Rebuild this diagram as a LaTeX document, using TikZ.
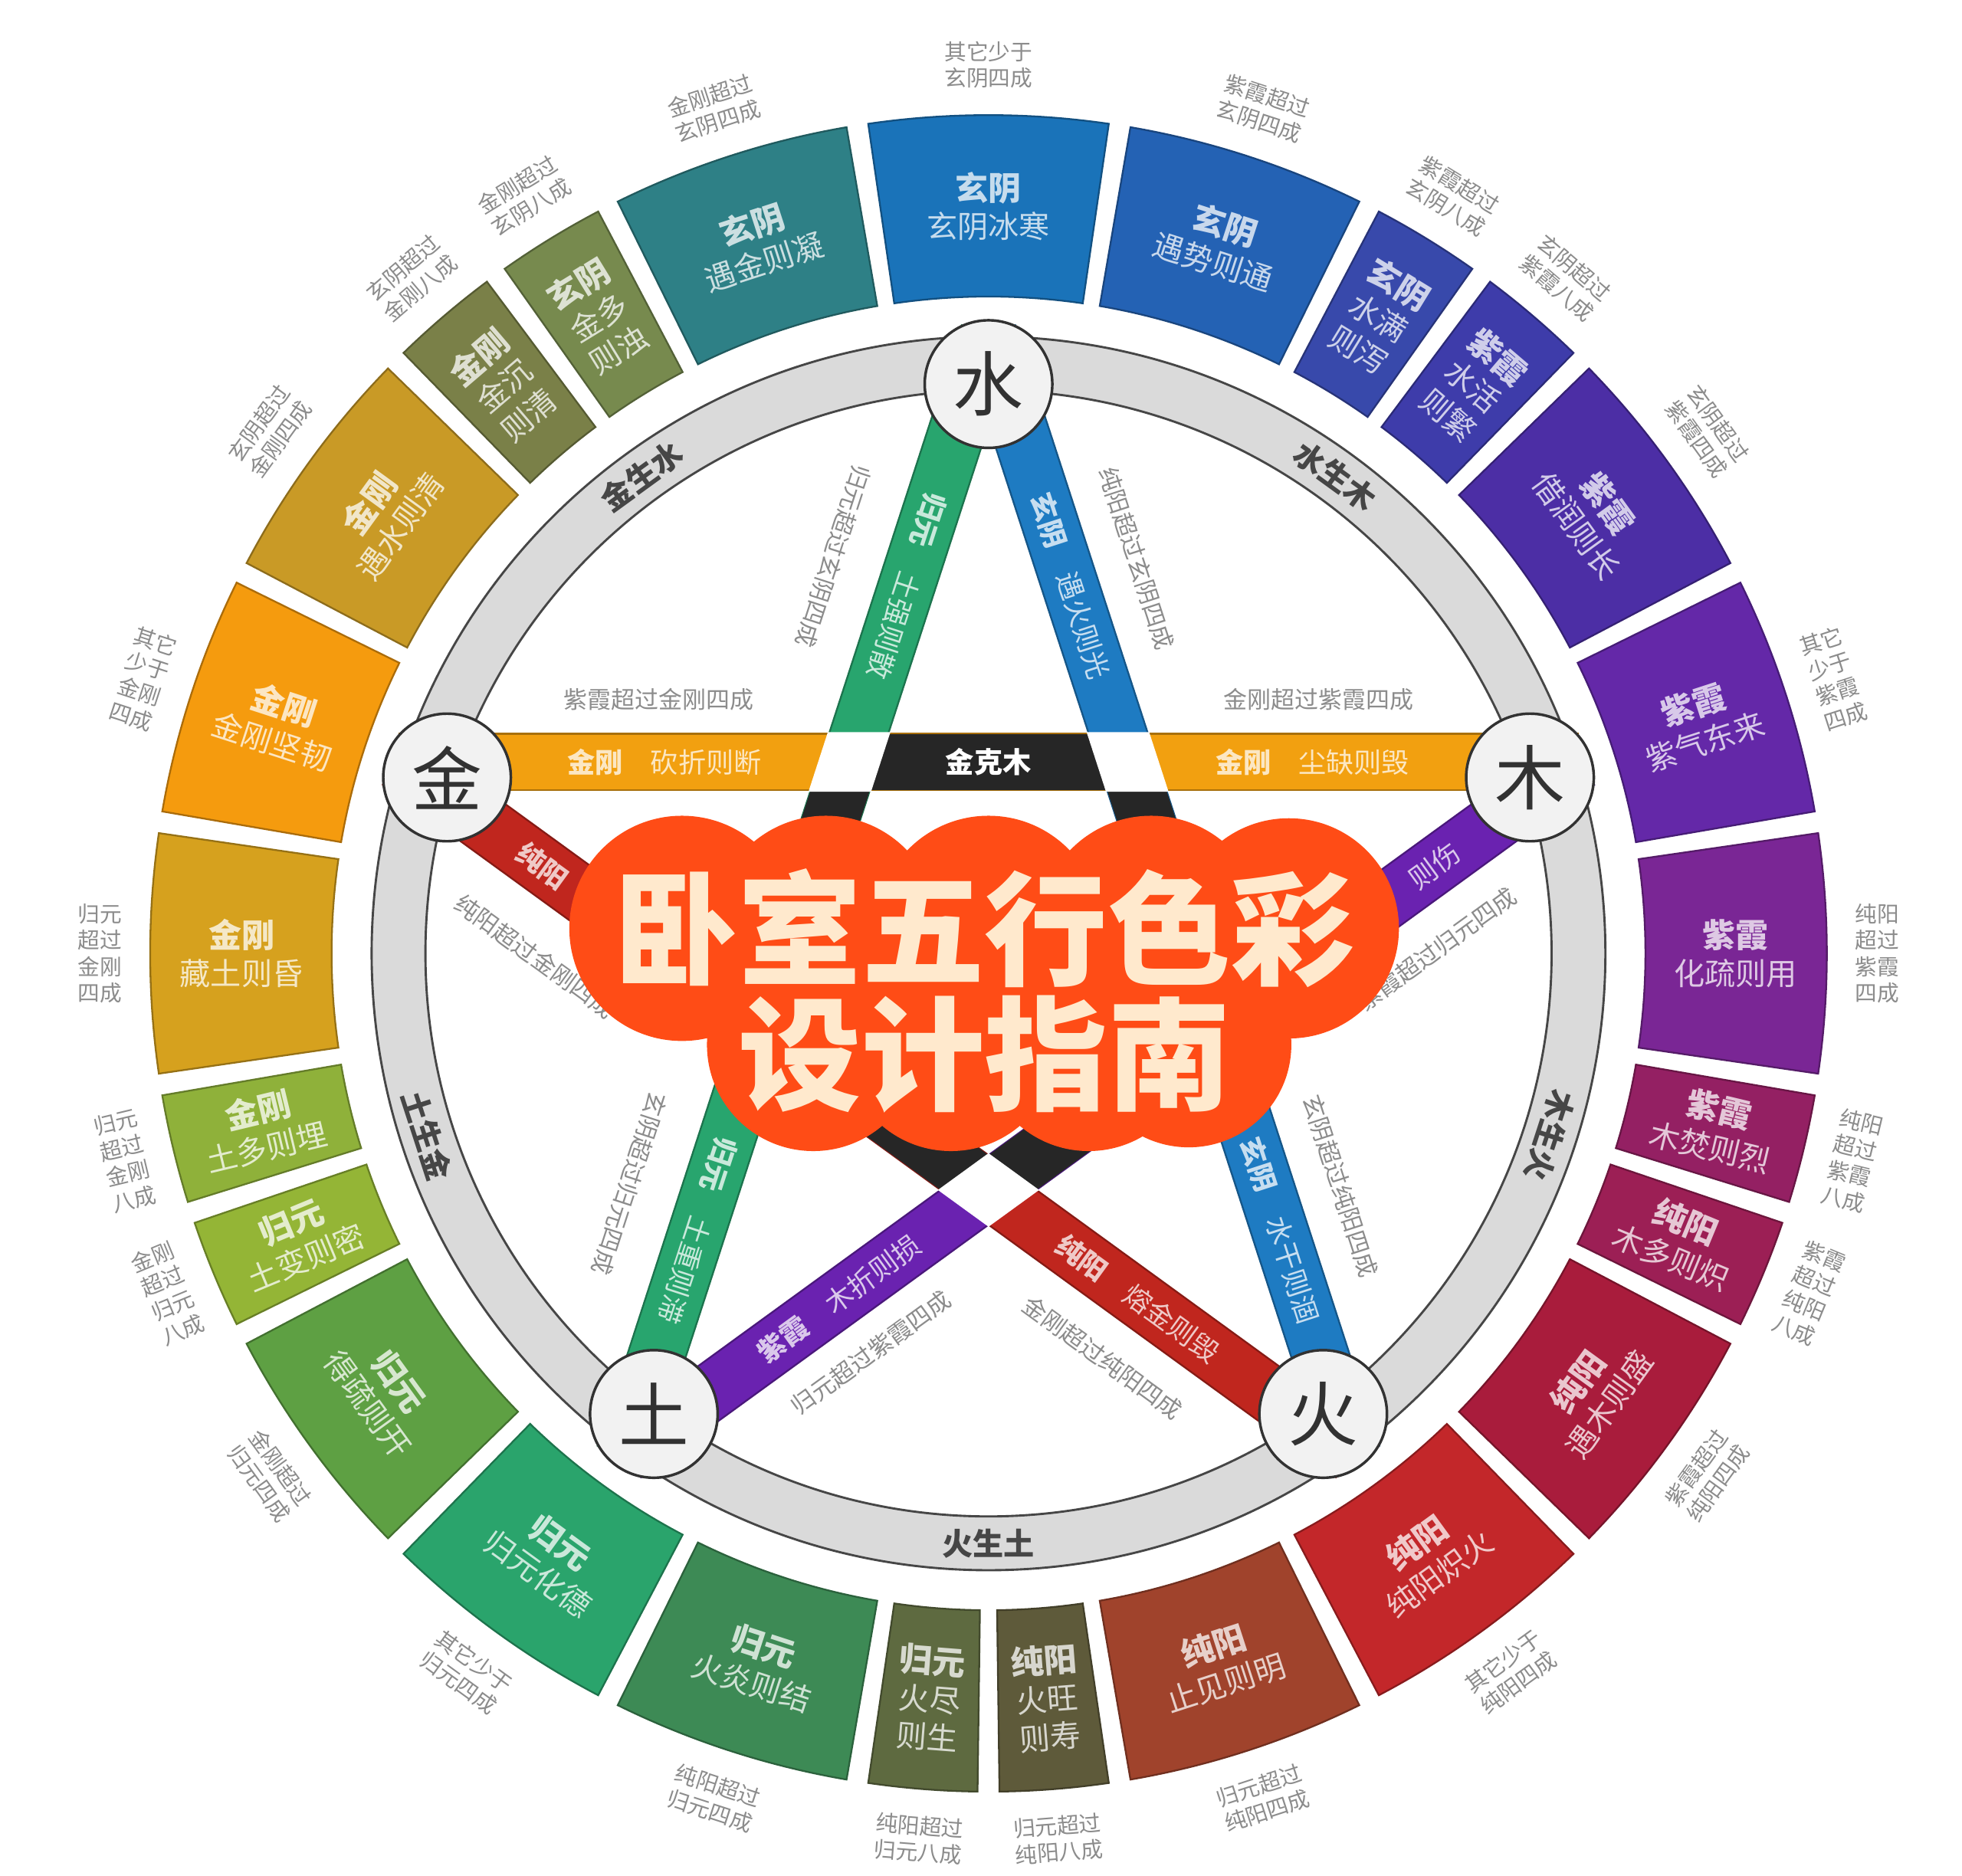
\documentclass[tikz,border=0pt]{standalone}
\usepackage{fontspec}
\setmainfont{Noto Sans CJK SC}
\usetikzlibrary{calc}

\definecolor{s1}{RGB}{46,128,134}
\definecolor{s2}{RGB}{26,115,185}
\definecolor{s3}{RGB}{36,98,180}
\definecolor{s4}{RGB}{56,73,171}
\definecolor{s5}{RGB}{62,60,170}
\definecolor{s6}{RGB}{76,46,165}
\definecolor{s7}{RGB}{100,40,168}
\definecolor{s8}{RGB}{122,38,149}
\definecolor{s9}{RGB}{148,32,99}
\definecolor{s10}{RGB}{156,31,85}
\definecolor{s11}{RGB}{169,28,60}
\definecolor{s12}{RGB}{195,39,42}
\definecolor{s13}{RGB}{160,67,44}
\definecolor{s14}{RGB}{94,90,58}
\definecolor{s15}{RGB}{94,106,64}
\definecolor{s16}{RGB}{61,138,85}
\definecolor{s17}{RGB}{42,164,108}
\definecolor{s18}{RGB}{94,160,67}
\definecolor{s19}{RGB}{148,181,54}
\definecolor{s20}{RGB}{143,177,58}
\definecolor{s21}{RGB}{214,161,30}
\definecolor{s22}{RGB}{245,155,14}
\definecolor{s23}{RGB}{201,154,38}
\definecolor{s24}{RGB}{122,128,72}
\definecolor{s25}{RGB}{119,138,78}
\definecolor{bGreen}{RGB}{40,165,110}
\definecolor{bBlue}{RGB}{30,123,194}
\definecolor{bOrange}{RGB}{242,160,16}
\definecolor{bRed}{RGB}{192,38,30}
\definecolor{bPurple}{RGB}{106,34,176}
\definecolor{noteGrey}{RGB}{140,140,140}
\definecolor{ringFill}{RGB}{218,218,218}
\definecolor{ringLine}{RGB}{70,70,70}
\definecolor{elemFill}{RGB}{242,242,242}
\definecolor{elemLine}{RGB}{50,50,50}
\definecolor{keBlack}{RGB}{38,38,38}
\definecolor{titleRed}{RGB}{255,76,22}
\definecolor{titleText}{RGB}{255,233,205}

\tikzset{
	seg/.style={line width=0.4pt},
	segtext/.style={font=\fontsize{7}{8.6}\selectfont, align=center, inner sep=0pt},
	segnote/.style={font=\fontsize{5}{6}\selectfont, align=center, text=noteGrey, inner sep=0pt},
	elem/.style={circle, draw=elemLine, line width=0.6pt, fill=elemFill, minimum size=1.02cm, inner sep=0pt, font=\fontsize{16}{16}\selectfont, text=elemLine},
	bandtext/.style={font=\fontsize{6.3}{7}\selectfont, inner sep=0pt},
	bandnote/.style={font=\fontsize{5.4}{6}\selectfont, text=noteGrey, inner sep=0pt},
	ringtext/.style={font=\bfseries\fontsize{7}{8}\selectfont, text=ringLine, inner sep=0pt},
	ketext/.style={font=\bfseries\fontsize{6.5}{7}\selectfont, text=white, inner sep=0pt},
	titletext/.style={font=\bfseries\fontsize{28}{28.5}\selectfont, text=titleText, align=center, inner sep=0pt}
}

\begin{document}
\begin{tikzpicture}
\useasboundingbox (-7.90,-7.37) rectangle (7.78,7.62);
\fill[white] (-7.90,-7.37) rectangle (7.78,7.62);

% colour blocks round the wheel
\foreach \ang/\sw/\col/\rot/\hd/\bd/\lab [count=\i] in {
	108/16.5/s1/18/玄阴/遇金则凝/{金刚超过\\玄阴四成},
	90/16.5/s2/0/玄阴/玄阴冰寒/{其它少于\\玄阴四成},
	72/16.5/s3/-18/玄阴/遇势则通/{紫霞超过\\玄阴四成},
	58.5/7.5/s4/-31.5/玄阴/{水满\\则泻}/{紫霞超过\\玄阴八成},
	49.5/7.5/s5/-40.5/紫霞/{水活\\则繁}/{玄阴超过\\紫霞八成},
	36/16.5/s6/-54/紫霞/借润则长/{玄阴超过\\紫霞四成},
	18/16.5/s7/18/紫霞/紫气东来/{其它\\少于\\紫霞\\四成},
	0/16.5/s8/0/紫霞/化疏则用/{纯阳\\超过\\紫霞\\四成},
	-13.5/7.5/s9/-13.5/紫霞/木焚则烈/{纯阳\\超过\\紫霞\\八成},
	-22.5/7.5/s10/-22.5/纯阳/木多则炽/{紫霞\\超过\\纯阳\\八成},
	-36/16.5/s11/54/纯阳/遇木则盛/{紫霞超过\\纯阳四成},
	-54/16.5/s12/36/纯阳/纯阳炽火/{其它少于\\纯阳四成},
	-72/16.5/s13/18/纯阳/止见则明/{归元超过\\纯阳四成},
	-85.5/7.5/s14/4.5/纯阳/{火旺\\则寿}/{归元超过\\纯阳八成},
	-94.5/7.5/s15/-4.5/归元/{火尽\\则生}/{纯阳超过\\归元八成},
	-108/16.5/s16/-18/归元/火炎则结/{纯阳超过\\归元四成},
	-126/16.5/s17/-36/归元/归元化德/{其它少于\\归元四成},
	-144/16.5/s18/-54/归元/得疏则开/{金刚超过\\归元四成},
	-157.5/7.5/s19/22.5/归元/土变则密/{金刚\\超过\\归元\\八成},
	-166.5/7.5/s20/13.5/金刚/土多则埋/{归元\\超过\\金刚\\八成},
	180/16.5/s21/0/金刚/藏土则昏/{归元\\超过\\金刚\\四成},
	162/16.5/s22/-18/金刚/金刚坚韧/{其它\\少于\\金刚\\四成},
	144/16.5/s23/54/金刚/遇水则清/{玄阴超过\\金刚四成},
	130.5/7.5/s24/40.5/金刚/{金沉\\则清}/{玄阴超过\\金刚八成},
	121.5/7.5/s25/31.5/玄阴/{金多\\则浊}/{金刚超过\\玄阴八成}}{
	\fill[seg, \col, draw=\col!70!black] (\ang-\sw/2:5.25) arc[start angle=\ang-\sw/2, end angle=\ang+\sw/2, radius=5.25]
		-- (\ang+\sw/2:6.70) arc[start angle=\ang+\sw/2, end angle=\ang-\sw/2, radius=6.70] -- cycle;
	\node[segtext, rotate=\rot, text=\col!25!white] (seg\i) at (\ang:5.97) {{\bfseries\fontsize{7.5}{8.6}\selectfont\hd}\\\bd};
	\node[segnote, rotate=\rot] (note\i) at (\ang:7.1) {\lab};
}

% grey ring
\fill[ringFill, even odd rule] (0,0) circle (4.93) (0,0) circle (4.50);
\draw[ringLine, line width=0.5pt] (0,0) circle (4.93) (0,0) circle (4.50);

\coordinate (vShui) at (90:4.95);
\coordinate (vMu) at (18:4.95);
\coordinate (vHuo) at (-54:4.95);
\coordinate (vTu) at (-126:4.95);
\coordinate (vJin) at (162:4.95);

% star bands, black where one element checks another
\foreach \a/\b/\col in {vShui/vTu/bGreen, vShui/vHuo/bBlue, vJin/vMu/bOrange, vJin/vHuo/bRed, vTu/vMu/bPurple}{
	\fill[\col, draw=\col!70!black, line width=0.4pt] ($(\a)!0.225cm!90:(\b)$) -- ($(\b)!0.225cm!-90:(\a)$)
		-- ($(\b)!0.225cm!90:(\a)$) -- ($(\a)!0.225cm!-90:(\b)$) -- cycle;
	\coordinate (m1) at ($(\a)!0.382!(\b)$);
	\coordinate (m2) at ($(\a)!0.618!(\b)$);
	\fill[keBlack] ($(m1)!0.225cm!90:(m2)$) -- ($(m2)!0.225cm!-90:(m1)$)
		-- ($(m2)!0.225cm!90:(m1)$) -- ($(m1)!0.225cm!-90:(m2)$) -- cycle;
}
\foreach \p in {126,54,-18,-90,-162}
	\fill[white] ($(\p:1.891)+(\p-54:0.25)+(\p-126:0.25)$) -- ($(\p:1.891)+(\p-54:0.25)-(\p-126:0.25)$)
		-- ($(\p:1.891)-(\p-54:0.25)-(\p-126:0.25)$) -- ($(\p:1.891)-(\p-54:0.25)+(\p-126:0.25)$) -- cycle;

\node[bandtext, rotate=-108, text=bGreen!25!white] (gyTop) at ($(vShui)!0.225!(vTu)$) {{\bfseries 归元}\quad 土强则散};
\node[bandtext, rotate=-108, text=bGreen!25!white] (gyLow) at ($(vShui)!0.80!(vTu)$) {{\bfseries 归元}\quad 土重则滞};
\node[bandtext, rotate=-72, text=bBlue!25!white] (xyTop) at ($(vShui)!0.225!(vHuo)$) {{\bfseries 玄阴}\quad 遇火则光};
\node[bandtext, rotate=-72, text=bBlue!25!white] (xyLow) at ($(vShui)!0.80!(vHuo)$) {{\bfseries 玄阴}\quad 水干则涸};
\node[bandtext, text=bOrange!25!white] (jgLeft) at ($(vJin)!0.225!(vMu)$) {{\bfseries 金刚}\quad 砍折则断};
\node[bandtext, text=bOrange!25!white] (jgRight) at ($(vJin)!0.775!(vMu)$) {{\bfseries 金刚}\quad 尘缺则毁};
\node[bandtext, rotate=-36, text=bRed!25!white] (cyTop) at ($(vJin)!0.15!(vHuo)$) {\bfseries 纯阳};
\node[bandtext, rotate=-36, text=bRed!25!white] (cyLow) at ($(vJin)!0.775!(vHuo)$) {{\bfseries 纯阳}\quad 熔金则毁};
\node[bandtext, rotate=36, text=bPurple!25!white] (zxLow) at ($(vTu)!0.225!(vMu)$) {{\bfseries 紫霞}\quad 木折则损};
\node[bandtext, rotate=36, text=bPurple!25!white] (zxTop) at ($(vTu)!0.85!(vMu)$) {则伤};

\node[bandnote, rotate=-108] (gyTopNote) at ($(vShui)!0.22!(vTu)+(162:0.63)$) {归元超过玄阴四成};
\node[bandnote, rotate=-108] (gyLowNote) at ($(vShui)!0.78!(vTu)+(162:0.63)$) {玄阴超过归元四成};
\node[bandnote, rotate=-72] (xyTopNote) at ($(vShui)!0.22!(vHuo)+(18:0.57)$) {纯阳超过玄阴四成};
\node[bandnote, rotate=-72] (xyLowNote) at ($(vShui)!0.78!(vHuo)+(18:0.57)$) {玄阴超过纯阳四成};
\node[bandnote] (jgLeftNote) at ($(vJin)!0.22!(vMu)+(90:0.5)$) {紫霞超过金刚四成};
\node[bandnote] (jgRightNote) at ($(vJin)!0.78!(vMu)+(90:0.5)$) {金刚超过紫霞四成};
\node[bandnote, rotate=-36] (cyTopNote) at ($(vJin)!0.19!(vHuo)+(-126:0.62)$) {纯阳超过金刚四成};
\node[bandnote, rotate=-36] (cyLowNote) at ($(vJin)!0.78!(vHuo)+(-126:0.55)$) {金刚超过纯阳四成};
\node[bandnote, rotate=36] (zxLowNote) at ($(vTu)!0.22!(vMu)+(-54:0.5)$) {归元超过紫霞四成};
\node[bandnote, rotate=36] (zxTopNote) at ($(vTu)!0.81!(vMu)+(-54:0.55)$) {紫霞超过归元四成};

\node[ketext] (jinKeMu) at (0,1.53) {金克木};

\node[elem] (shui) at (90:4.55) {水};
\node[elem] (mu) at (18:4.55) {木};
\node[elem] (huo) at (-54:4.55) {火};
\node[elem] (tu) at (-126:4.55) {土};
\node[elem] (jin) at (162:4.55) {金};

\node[ringtext, rotate=36] (jinShengShui) at (126:4.715) {金生水};
\node[ringtext, rotate=-36] (shuiShengMu) at (54:4.715) {水生木};
\node[ringtext, rotate=-108] (muShengHuo) at (-18:4.715) {木生火};
\node[ringtext] (huoShengTu) at (-90:4.715) {火生土};
\node[ringtext, rotate=-72] (tuShengJin) at (-162:4.715) {土生金};

% title cloud
\foreach \x/\y/\r in {-2.45/0.20/0.90, -1.30/0.20/0.90, 0/0.20/0.90, 1.30/0.20/0.90, 2.40/0.20/0.88,
	-1.40/-0.73/0.85, -0.30/-0.73/0.85, 0.80/-0.73/0.85, 1.60/-0.73/0.82}
	\fill[titleRed] (\x,\y) circle (\r);
\fill[titleRed] (-2.45,-0.40) rectangle (2.40,0.60);
\node[titletext] (title) at (-0.03,-0.30) {卧室五行色彩\\设计指南};
\end{tikzpicture}
\end{document}
